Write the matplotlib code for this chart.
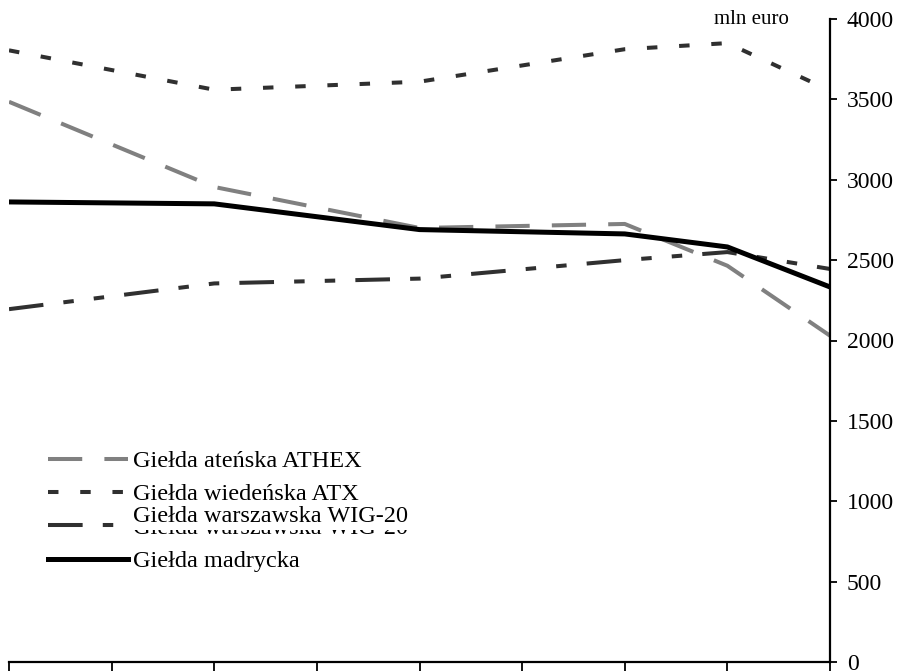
import matplotlib
matplotlib.use("Agg")
import matplotlib.pyplot as plt

plt.rcParams['font.family'] = ['Liberation Serif', 'DejaVu Serif']

# dane (mln euro)
lata = [0, 2, 4, 6, 7, 8]
athex = [3485, 2955, 2700, 2725, 2465, 2030]
atx = [3805, 3560, 3610, 3812, 3850, 3555]
wig20 = [2195, 2355, 2385, 2500, 2550, 2445]
madryt = [2862, 2850, 2690, 2663, 2582, 2333]

nazwy = ["Giełda ateńska ATHEX", "Giełda wiedeńska ATX",
         "Giełda warszawska WIG-20", "Giełda madrycka"]

fig = plt.figure(figsize=(8.98, 6.71), dpi=100)
ax = fig.add_axes([9/898, 9/671, 821/898, 643/671])

ax.plot(lata, athex, color='#808080', lw=2.9, dashes=(8.5, 5.5), label=nazwy[0])
ax.plot(lata, atx, color='#303030', lw=2.9, dashes=(2.6, 5.4), label=nazwy[1])
ax.plot(lata, wig20, color='#303030', lw=2.9,
        dashes=(8.6, 5, 2.6, 5, 2.6, 5), label=nazwy[2])
ax.plot(lata, madryt, color='black', lw=3.6, label=nazwy[3])

ax.set_xlim(0, 8)
ax.set_ylim(0, 4000)
ax.set_xticks(range(9))
ax.set_xticklabels([])
ax.set_yticks(range(0, 4001, 500))

ax.yaxis.tick_right()
for s in ['top', 'left']:
    ax.spines[s].set_visible(False)
ax.spines['right'].set_linewidth(1.6)
ax.spines['bottom'].set_linewidth(1.6)
ax.tick_params(axis='x', direction='out', length=7, width=1.3)
ax.tick_params(axis='y', direction='out', length=5, width=1.3, pad=7,
               labelsize=17)

fig.text(789/898, 1 - 20/671, "mln euro", ha='right', va='center', fontsize=15)

leg = ax.legend(loc='upper left', bbox_to_anchor=(48/898, 1 - 450/671),
                bbox_transform=fig.transFigure, frameon=False, fontsize=17.5,
                handlelength=3.3, handletextpad=0.2, labelspacing=0.47,
                borderpad=0, borderaxespad=0)

# nakładający się drugi napis, jak w oryginale
fig.text(133/898, 1 - 522/671, nazwy[2], ha='left', va='baseline', fontsize=17.5,
         zorder=10, bbox=dict(facecolor='white', edgecolor='none', pad=2))

fig.savefig("out.png", dpi=100)
